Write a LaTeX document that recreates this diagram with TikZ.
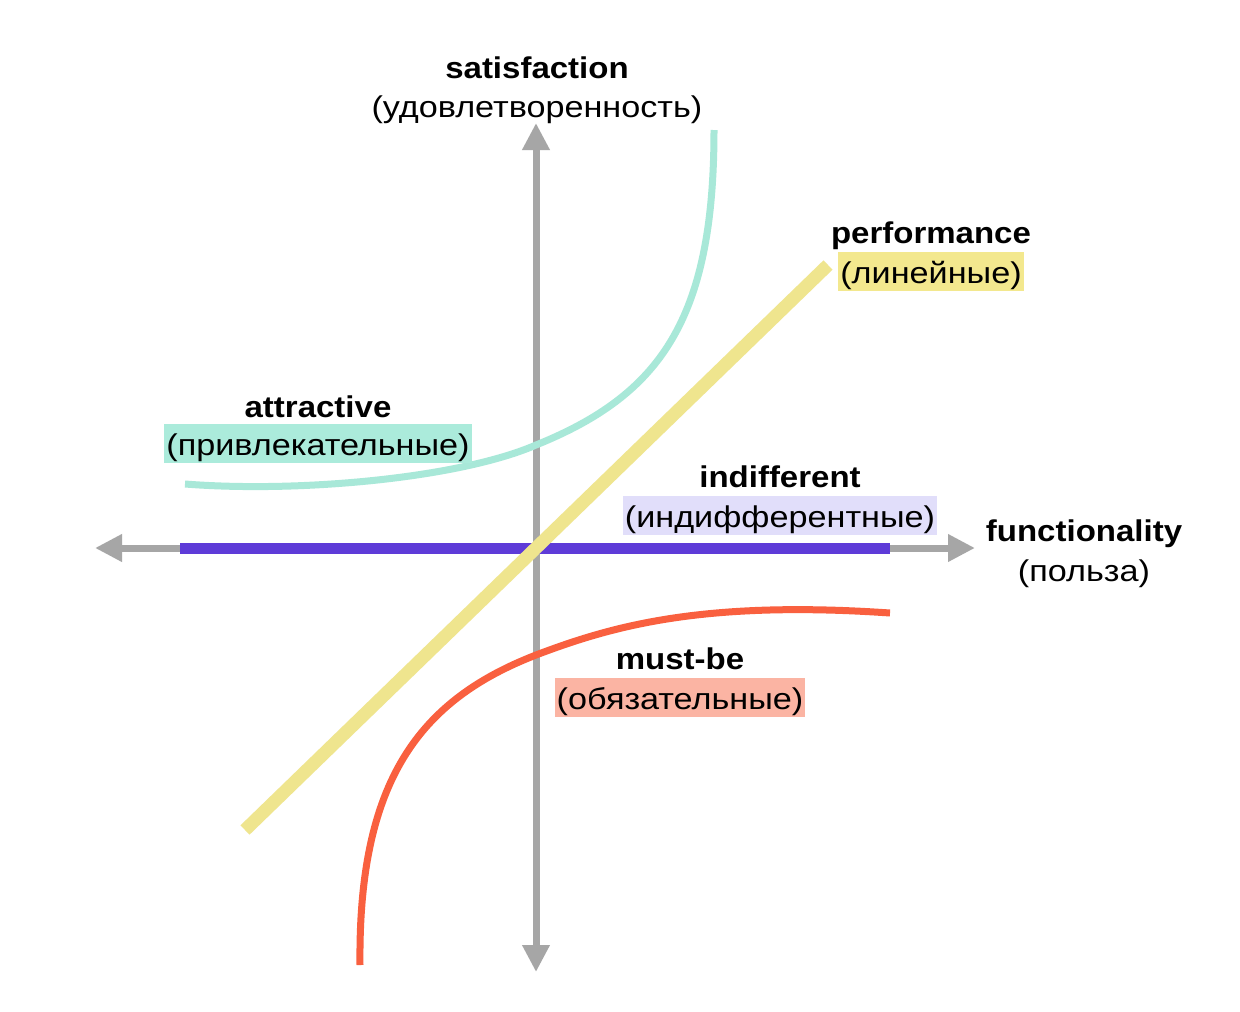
\documentclass[tikz,border=0pt]{standalone}
\usepackage{fontspec}
\setmainfont{Liberation Sans}[FakeStretch=1.14,BoldFeatures={FakeStretch=1.1}]
\usetikzlibrary{arrows.meta}
\definecolor{axisgray}{HTML}{A6A6A6}
\definecolor{tealc}{HTML}{A8E8D8}
\definecolor{tealbg}{HTML}{ABEBDB}
\definecolor{yellowc}{HTML}{EFE58E}
\definecolor{yellowbg}{HTML}{F3E88E}
\definecolor{orangec}{HTML}{F9603F}
\definecolor{salmonbg}{HTML}{FBB4A3}
\definecolor{purplec}{HTML}{5E3BD8}
\definecolor{lavbg}{HTML}{E1DEFA}
\begin{document}
\begin{tikzpicture}[x=1pt,y=-1pt,
  axisline/.style={draw=axisgray,line width=7pt,{Triangle[length=27pt,width=26pt]}-{Triangle[length=27pt,width=26pt]}},
  curveline/.style={line width=7pt,line cap=butt},
  title/.style={anchor=base,font=\fontsize{30}{34}\selectfont\bfseries,inner sep=0pt},
  sub/.style={anchor=base,font=\fontsize{30}{34}\selectfont,inner xsep=2pt,inner ysep=0pt,text height=31pt,text depth=8pt},
]
\useasboundingbox[fill=white] (0,0) rectangle (1240,1012);
% axes
\coordinate (xl) at (95,548);
\coordinate (xr) at (975,548);
\coordinate (yt) at (536,123);
\coordinate (yb) at (536,972);
\draw[axisline] (xl) -- (xr);
\draw[axisline] (yb) -- (yt);
% indifferent
\coordinate (p1) at (180,548);
\coordinate (p2) at (890,548);
\draw[draw=purplec,line width=11pt] (p1) -- (p2);
% performance
\coordinate (y1) at (245,830);
\coordinate (y2) at (828,265);
\draw[draw=yellowc,line width=13pt] (y1) -- (y2);
% attractive
\coordinate (t1) at (185,484);
\coordinate (t2) at (536,445);
\coordinate (t3) at (714,130);
\draw[draw=tealc,curveline] (t1) .. controls (300,493) and (460,478) .. (t2)
  .. controls (660,395) and (714,320) .. (t3);
% must-be
\coordinate (o1) at (360,965);
\coordinate (o2) at (536,655);
\coordinate (o3) at (890,613);
\draw[draw=orangec,curveline] (o1) .. controls (358,780) and (420,700) .. (o2)
  .. controls (610,627) and (700,600) .. (o3);
% labels
\node[title] (satT) at (537,78) {satisfaction};
\node[sub] (satS) at (537,117) {(удовлетворенность)};
\node[title] (perfT) at (931,243) {performance};
\node[sub,fill=yellowbg] (perfS) at (931,283) {(линейные)};
\node[title] (attT) at (318,417) {attractive};
\node[sub,fill=tealbg] (attS) at (318,455) {(привлекательные)};
\node[title] (indT) at (780,487) {indifferent};
\node[sub,fill=lavbg] (indS) at (780,527) {(индифферентные)};
\node[title] (funT) at (1084,541) {functionality};
\node[sub] (funS) at (1084,581) {(польза)};
\node[title] (musT) at (680,669) {must-be};
\node[sub,fill=salmonbg] (musS) at (680,709) {(обязательные)};
\end{tikzpicture}
\end{document}
